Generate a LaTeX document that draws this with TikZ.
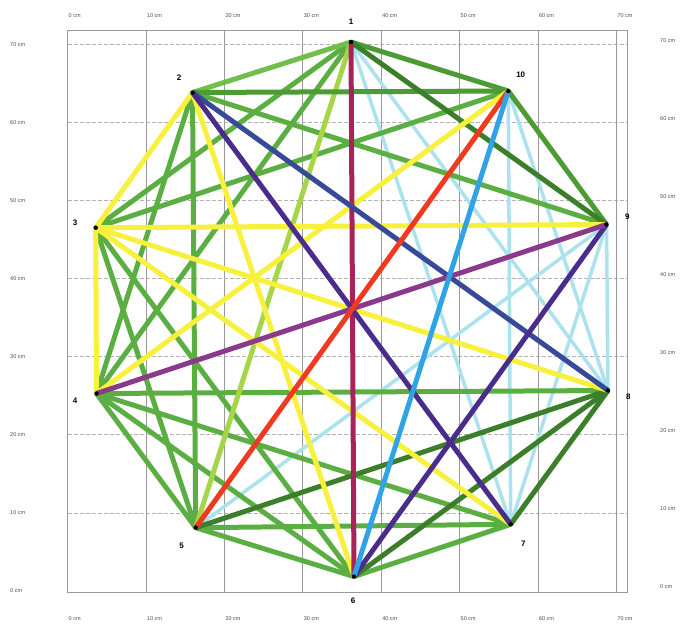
\documentclass[tikz,border=0pt]{standalone}
\usepackage{fontspec}
\setsansfont{Liberation Sans}
\definecolor{dkgreen}{HTML}{3C7F2A}
\definecolor{mdgreen}{HTML}{4C9B34}
\definecolor{grn}{HTML}{5BAF42}
\definecolor{ltgreen}{HTML}{72BE4A}
\definecolor{limeg}{HTML}{A6D647}
\definecolor{yel}{HTML}{F7F03C}
\definecolor{paleblue}{HTML}{ABE2EE}
\definecolor{skyblue}{HTML}{2FA3E6}
\definecolor{redline}{HTML}{F0391F}
\definecolor{crimson}{HTML}{A7235A}
\definecolor{navy}{HTML}{374A98}
\definecolor{violet}{HTML}{4A2C8C}
\definecolor{plum}{HTML}{8A3A8A}
\begin{document}
\begin{tikzpicture}[x=1pt,y=-1pt,
  edge/.style={line width=5pt},
  thinedge/.style={line width=3.5pt},
  vgrid/.style={draw=gray!80,line width=0.9pt},
  hgrid/.style={draw=gray!60,line width=0.8pt,dash pattern=on 4pt off 2pt},
  axlab/.style={font=\sffamily\fontsize{5.5}{6}\selectfont,text=gray!60!black,inner sep=0pt},
  numlab/.style={font=\sffamily\bfseries\fontsize{8}{9}\selectfont,inner sep=0pt},
  dot/.style={circle,fill=black,inner sep=0pt,minimum size=4.5pt}]
\useasboundingbox (0,0) rectangle (683,625);
\fill[white] (0,0) rectangle (683,625);
% grid
\foreach \k in {1,...,7} {
  \draw[vgrid] ({67.7+78.4*\k},30) -- ({67.7+78.4*\k},592);
  \draw[hgrid] (67.7,{591-78.1*\k}) -- (627,{591-78.1*\k});
}
\draw[draw=gray!80,line width=1pt] (67.7,30) rectangle (627,592);
% axis labels
\foreach \k in {0,...,7} {
  \pgfmathtruncatemacro{\v}{10*\k}
  \node[axlab,anchor=west] (top\k) at ({68.5+78.4*\k},16) {\v\ cm};
  \node[axlab,anchor=west] (bot\k) at ({68.5+78.4*\k},619) {\v\ cm};
  \node[axlab,anchor=west] (lft\k) at (10,{591-78.1*\k}) {\v\ cm};
  \node[axlab,anchor=west] (rgt\k) at (660,{587-78.1*\k}) {\v\ cm};
}
% vertices
\coordinate (p1) at (351,42);
\coordinate (p2) at (192.5,92.5);
\coordinate (p3) at (95.7,227.7);
\coordinate (p4) at (96.5,393.5);
\coordinate (p5) at (195.7,527.7);
\coordinate (p6) at (354,576.5);
\coordinate (p7) at (510.7,524.3);
\coordinate (p8) at (608,390.5);
\coordinate (p9) at (606.5,224.5);
\coordinate (p10) at (508.3,91);
% pale blue edges
\foreach \a/\b in {1/7,1/8,5/9,7/9,7/10,8/9,8/10}
  \draw[thinedge,paleblue] (p\a) -- (p\b);
% green edges
\foreach \a/\b in {1/3,1/4,2/4,2/5,2/9,3/5,3/6,3/10,4/5,4/6,4/7,4/8,5/6,5/7,6/7}
  \draw[edge,grn] (p\a) -- (p\b);
\draw[edge,ltgreen] (p1) -- (p2);
\draw[edge,limeg] (p1) -- (p5);
\foreach \a/\b in {1/10,2/10,9/10}
  \draw[edge,mdgreen] (p\a) -- (p\b);
\foreach \a/\b in {1/9,5/8,6/8,7/8}
  \draw[edge,dkgreen] (p\a) -- (p\b);
% yellow edges
\foreach \a/\b in {2/3,2/6,3/4,3/7,3/8,3/9,4/10}
  \draw[edge,yel] (p\a) -- (p\b);
% coloured edges
\draw[edge,crimson] (p1) -- (p6);
\draw[edge,navy] (p2) -- (p8);
\draw[edge,violet] (p2) -- (p7);
\draw[edge,violet] (p6) -- (p9);
\draw[edge,plum] (p4) -- (p9);
\draw[edge,redline] (p5) -- (p10);
\draw[edge,skyblue] (p6) -- (p10);
% dots
\foreach \i in {1,...,10}
  \node[dot] (d\i) at (p\i) {};
% vertex numbers
\node[numlab] (l1) at (351,22) {1};
\node[numlab] (l2) at (179,77.3) {2};
\node[numlab] (l3) at (75,222.7) {3};
\node[numlab] (l4) at (75,401) {4};
\node[numlab] (l5) at (181.7,545.7) {5};
\node[numlab] (l6) at (353,601) {6};
\node[numlab] (l7) at (523.3,543.3) {7};
\node[numlab] (l8) at (628.3,396.7) {8};
\node[numlab] (l9) at (627.3,216.7) {9};
\node[numlab] (l10) at (520.7,74.3) {10};
\end{tikzpicture}
\end{document}
